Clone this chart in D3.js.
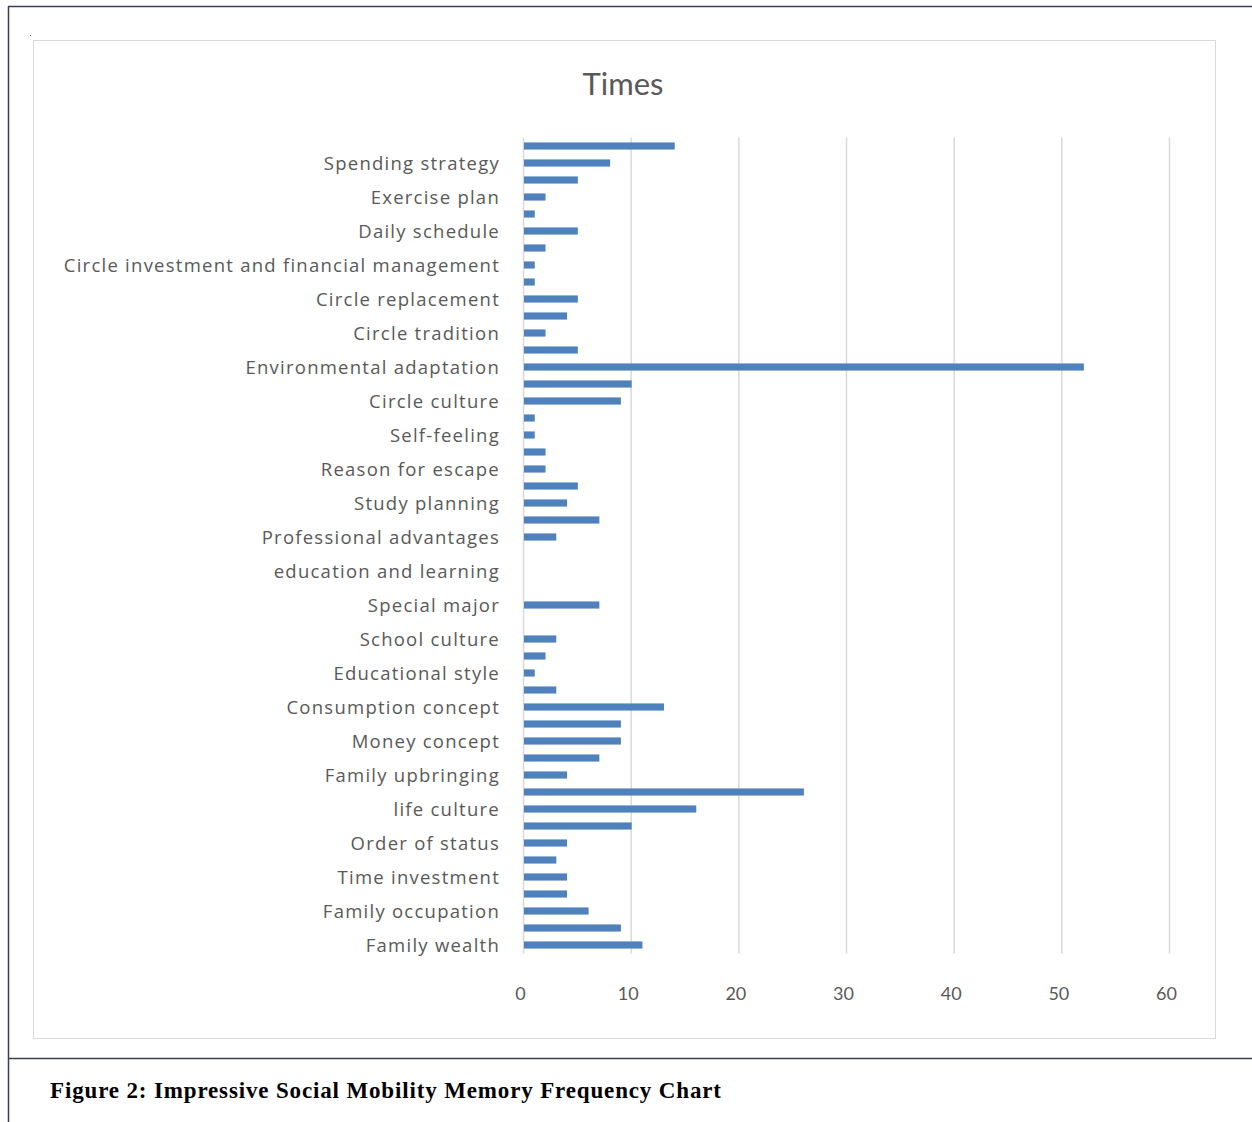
<!DOCTYPE html>
<html>
<head>
<meta charset="utf-8">
<script src="https://cdn.jsdelivr.net/npm/d3@7"></script>
<style>
  body { margin: 0; background: #fff; }
</style>
</head>
<body>
<div id="barChart"></div>
<script>
// categories, top to bottom (Excel only labels every other bar)
var categories = [
  "c48", "Spending strategy", "c46", "Exercise plan", "c44", "Daily schedule",
  "c42", "Circle investment and financial management", "c40", "Circle replacement",
  "c38", "Circle tradition", "c36", "Environmental adaptation", "c34", "Circle culture",
  "c32", "Self-feeling", "c30", "Reason for escape", "c28", "Study planning",
  "c26", "Professional advantages", "c24", "education and learning", "c22", "Special major",
  "c20", "School culture", "c18", "Educational style", "c16", "Consumption concept",
  "c14", "Money concept", "c12", "Family upbringing", "c10", "life culture",
  "c8", "Order of status", "c6", "Time investment", "c4", "Family occupation",
  "c2", "Family wealth"
];
var times = [
  14, 8, 5, 2, 1, 5, 2, 1, 1, 5, 4, 2,
  5, 52, 10, 9, 1, 1, 2, 2, 5, 4, 7, 3,
  0, 0, 0, 7, 0, 3, 2, 1, 3, 13, 9, 9,
  7, 4, 26, 16, 10, 4, 3, 4, 4, 6, 9, 11
];
var xTicks = [0, 10, 20, 30, 40, 50, 60];

var data = categories.map((c, i) => ({ cat: c, value: times[i] }));

var width = 1252, height = 1122;
var margin = { top: 137.5, right: 82, bottom: 168.5, left: 524 };

var svg = d3.select("div#barChart").append("svg")
  .attr("width", width).attr("height", height);

// page frame lines
svg.append("line").attr("x1", 8).attr("x2", width).attr("y1", 6.5).attr("y2", 6.5)
  .attr("stroke", "#3a3f55").attr("stroke-width", 1.5);
svg.append("line").attr("x1", 8.5).attr("x2", 8.5).attr("y1", 6).attr("y2", height)
  .attr("stroke", "#3a3f55").attr("stroke-width", 1.5);
svg.append("line").attr("x1", 8).attr("x2", width).attr("y1", 1058.5).attr("y2", 1058.5)
  .attr("stroke", "#3a3f55").attr("stroke-width", 1.5);
svg.append("rect").attr("x", 30).attr("y", 35).attr("width", 1).attr("height", 1).attr("fill", "#777");

// chart area
svg.append("rect").attr("x", 33.5).attr("y", 40.5).attr("width", 1182).attr("height", 998)
  .attr("fill", "#fff").attr("stroke", "#d9d9d9");

svg.append("text").attr("x", 623).attr("y", 95).attr("text-anchor", "middle")
  .attr("font-family", "Lato, 'Open Sans', sans-serif").attr("font-size", 31)
  .attr("fill", "#595959").text("Times");

var x = d3.scaleLinear().domain([0, 60]).range([margin.left, width - margin.right]);
var y = d3.scaleBand().domain(categories)
  .range([margin.top, height - margin.bottom]).paddingInner(0.58).paddingOuter(0.29);

// gridlines
svg.append("g").selectAll("line").data(xTicks).join("line")
  .attr("x1", d => x(d) - 0.5).attr("x2", d => x(d) - 0.5)
  .attr("y1", margin.top).attr("y2", height - margin.bottom)
  .attr("stroke", "#d9d9d9").attr("stroke-width", 1.5);

// bars
svg.append("g").attr("fill", "#4f81bd").selectAll("rect").data(data).join("rect")
  .attr("x", x(0))
  .attr("y", d => y(d.cat))
  .attr("width", d => x(d.value) - x(0))
  .attr("height", y.bandwidth());

// y axis labels
function yAxis(g) {
  g.attr("transform", `translate(${margin.left}, 1)`)
    .call(d3.axisLeft(y).tickSize(0).tickPadding(24)
      .tickFormat(d => d.match(/^c\d+$/) ? "" : d))
    .call(g => g.select(".domain").remove());
  g.selectAll("text").attr("font-family", "'Open Sans', Lato, sans-serif")
    .attr("font-size", 18.5).attr("letter-spacing", 1.25)
    .attr("fill", "#595959").attr("dy", "0.35em");
}
svg.append("g").call(yAxis);

// x axis labels
function xAxis(g) {
  g.attr("transform", `translate(-4, ${height - margin.bottom + 22})`)
    .call(d3.axisBottom(x).tickValues(xTicks).tickSize(0).tickPadding(12))
    .call(g => g.select(".domain").remove());
  g.selectAll("text").attr("font-family", "Lato, 'Open Sans', sans-serif")
    .attr("font-size", 18).attr("fill", "#595959");
}
svg.append("g").call(xAxis);

// caption
svg.append("text").attr("x", 50).attr("y", 1098)
  .attr("font-family", "'Liberation Serif', 'Times New Roman', serif")
  .attr("font-weight", "bold").attr("font-size", 23).attr("fill", "#000")
  .attr("textLength", 671).attr("lengthAdjust", "spacing")
  .text("Figure 2: Impressive Social Mobility Memory Frequency Chart");
</script>
</body>
</html>
